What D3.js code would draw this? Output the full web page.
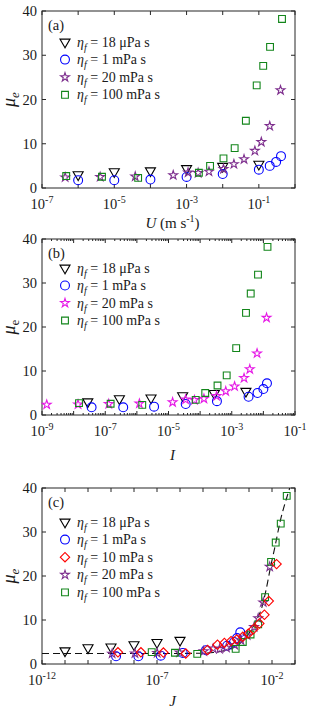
<!DOCTYPE html>
<html lang="en">
<head>
<meta charset="UTF-8">
<title>Effective friction vs U, I, J</title>
<style>
    body { margin: 0; background: #fff; }
    text { font-family: "Liberation Serif", "Times New Roman", serif; fill: #1a1a1a; }
    .box { fill: none; stroke: #262626; stroke-width: 1; }
    .tk { stroke: #262626; stroke-width: 1; }
    .mk { fill: none; stroke-width: 1.1; }
</style>
</head>
<body>
<svg width="311" height="714"></svg>
<script src="https://d3js.org/d3.v7.min.js"></script>
<script>
    // series labels (fluid viscosity)
    const seriesNames = ["18 \u03bcPa s", "1 mPa s", "10 mPa s", "20 mPa s", "100 mPa s"];

    // eta_f = 18 uPa s (triangles)
    const triMu = [3.0, 3.7, 3.9, 4.4, 4.9, 5.4];
    const triU = [1e-6, 1e-5, 1e-4, 1e-3, 1e-2, 1e-1];
    const triI = [2.8e-8, 2.8e-7, 2.8e-6, 2.8e-5, 2.8e-4, 2.8e-3];
    const triJ = [1e-11, 1e-10, 1e-9, 1e-8, 1e-7, 1e-6];

    // eta_f = 1 mPa s (circles)
    const cirMu = [1.75, 1.75, 1.9, 2.5, 3.15, 4.15, 5.0, 5.9, 7.2];
    const cirU = [1e-6, 1e-5, 1e-4, 1e-3, 1e-2, 0.1, 0.2, 0.3, 0.41];
    const cirI = [3.7e-8, 3.7e-7, 3.5e-6, 3.5e-5, 3.4e-4, 3.4e-3, 6.5e-3, 1.0e-2, 1.3e-2];
    const cirJ = [1.66e-9, 1.55e-8, 1.45e-7, 1.32e-6, 1.35e-5, 1.12e-4, 2.24e-4, 3.02e-4, 4.17e-4];

    // eta_f = 10 mPa s (diamonds, only in J panel)
    const diaMu = [2.65, 2.65, 2.6, 2.4, 3.2, 4.4, 4.8, 5.2, 5.6, 6.2, 6.9, 7.9, 9.2, 11.2, 14.3, 22.7];
    const diaJ = [2.0e-9, 2.0e-8, 1.9e-7, 1.78e-6, 1.58e-5, 4.27e-5, 8.51e-5, 1.66e-4, 2.95e-4, 5.37e-4,
        9.33e-4, 1.55e-3, 2.82e-3, 4.68e-3, 7.24e-3, 1.58e-2];

    // eta_f = 20 mPa s (stars)
    const starMu = [2.35, 2.4, 2.5, 2.6, 2.9, 3.5, 3.4, 3.7, 4.3, 5.4, 6.5, 8.4, 10.4, 14.0, 22.1];
    const starU = [4.47e-8, 4.37e-7, 4.07e-6, 3.8e-5, 4.27e-4, 1.1e-3, 2.09e-3, 4.17e-3, 1.05e-2, 2.04e-2,
        3.89e-2, 7.76e-2, 0.117, 0.2, 0.398];
    const starI = [1.41e-9, 1.38e-8, 1.29e-7, 1.2e-6, 1.35e-5, 3.47e-5, 6.61e-5, 1.32e-4, 3.31e-4, 6.46e-4,
        1.23e-3, 2.45e-3, 3.72e-3, 6.31e-3, 1.26e-2];
    const starJ = [1.12e-9, 1.1e-8, 1.02e-7, 9.55e-7, 1.07e-5, 2.75e-5, 5.25e-5, 1.05e-4, 2.4e-4, 4.47e-4,
        8.32e-4, 1.66e-3, 2.51e-3, 4.17e-3, 7.94e-3];

    // eta_f = 100 mPa s (squares)
    const sqMu = [2.7, 2.55, 2.3, 3.45, 5.0, 6.7, 9.0, 15.2, 23.2, 27.6, 31.9, 38.2];
    const sqU = [4.68e-7, 4.57e-6, 4.57e-5, 2.19e-3, 4.47e-3, 1.05e-2, 2.14e-2, 4.37e-2, 8.71e-2, 0.132, 0.204, 0.437];
    const sqI = [1.48e-8, 1.48e-7, 1.48e-6, 7.24e-5, 1.45e-4, 3.55e-4, 6.92e-4, 1.38e-3, 2.82e-3, 3.98e-3, 6.76e-3, 1.35e-2];
    const sqJ = [5.89e-8, 6.03e-7, 5.62e-6, 2.63e-4, 5.37e-4, 1.17e-3, 2.51e-3, 5.01e-3, 9.12e-3, 1.45e-2, 2.4e-2, 4.37e-2];

    // dashed master curve in the J panel
    const fitJ = [1e-12, 1e-6, 7.9e-6, 2.8e-5, 1.07e-4, 4.1e-4, 1.1e-3, 2.14e-3, 3.55e-3, 5.5e-3, 8.7e-3,
        1.35e-2, 2.24e-2, 5.0e-2, 6.3e-2];
    const fitMu = [2.4, 2.4, 2.45, 2.6, 3.2, 4.7, 7.3, 10, 12.7, 16.8, 22.1, 26.7, 32.3, 38.8, 40.5];

    const yTicks = [0, 10, 20, 30, 40];

    let svg = d3.select("svg");
    const left = 42, right = 295;

    const purple = "#7e2f8e", magenta = "#e619e6", green = "#12851a";

    function sym(type, size, rot) {
        return function (g, col, x, y) {
            g.append("path")
                .attr("class", "mk")
                .attr("d", d3.symbol().type(type).size(size)())
                .attr("stroke", col)
                .attr("transform", "translate(" + x + "," + y + ")" + (rot ? " rotate(" + rot + ")" : ""));
        };
    }
    const markers = {
        tri: sym(d3.symbolTriangle, 44, 180),
        cir: sym(d3.symbolCircle, 62, 0),
        dia: sym(d3.symbolSquare, 44, 45),
        star: sym(d3.symbolStar, 24, 0),
        sq: sym(d3.symbolSquare, 46, 0)
    };

    function panel(p) {
        let g = svg.append("g");
        let x = d3.scaleLog().domain(p.domain).range([left, right]);
        let y = d3.scaleLinear().domain([0, 40]).range([p.bottom, p.top]);

        // axis ticks inside the box, on all four sides
        let lo = Math.round(Math.log10(p.domain[0])), hi = Math.round(Math.log10(p.domain[1]));
        for (let e = lo; e <= hi; e++) {
            let xv = x(Math.pow(10, e));
            g.append("line").attr("class", "tk").attr("x1", xv).attr("x2", xv).attr("y1", p.bottom).attr("y2", p.bottom - 4);
            g.append("line").attr("class", "tk").attr("x1", xv).attr("x2", xv).attr("y1", p.top).attr("y2", p.top + 4);
            if (p.minor && e < hi) {
                for (let m = 2; m <= 9; m++) {
                    let xm = x(m * Math.pow(10, e));
                    g.append("line").attr("class", "tk").attr("x1", xm).attr("x2", xm).attr("y1", p.bottom).attr("y2", p.bottom - 2);
                    g.append("line").attr("class", "tk").attr("x1", xm).attr("x2", xm).attr("y1", p.top).attr("y2", p.top + 2);
                }
            }
            if (p.labels.indexOf(e) >= 0) {
                let t = g.append("text").attr("x", xv).attr("y", p.bottom + 21)
                    .attr("text-anchor", "middle").style("font-size", "14.5px");
                t.append("tspan").text("10");
                t.append("tspan").attr("dy", -6).style("font-size", "10px").text("-" + Math.abs(e));
            }
        }
        yTicks.forEach(function (v) {
            g.append("line").attr("class", "tk").attr("x1", left).attr("x2", left + 4).attr("y1", y(v)).attr("y2", y(v));
            g.append("line").attr("class", "tk").attr("x1", right).attr("x2", right - 4).attr("y1", y(v)).attr("y2", y(v));
            g.append("text").attr("x", left - 5).attr("y", y(v) + 5)
                .attr("text-anchor", "end").style("font-size", "14.5px").text(v);
        });
        g.append("rect").attr("class", "box")
            .attr("x", left).attr("y", p.top).attr("width", right - left).attr("height", p.bottom - p.top);

        // y label
        let yl = g.append("text")
            .attr("transform", "translate(15," + ((p.top + p.bottom) / 2) + ") rotate(-90)")
            .attr("text-anchor", "middle").style("font-size", "18px");
        yl.append("tspan").style("font-style", "italic").text("\u03bc");
        yl.append("tspan").attr("dy", 4).style("font-size", "13px")
            .style("font-style", p.eItalic ? "italic" : "normal").text("e");

        // x label
        let xl = g.append("text").attr("x", (left + right) / 2 + 4).attr("y", p.bottom + p.xlabDy)
            .attr("text-anchor", "middle").style("font-size", "15px");
        xl.append("tspan").style("font-style", "italic").text(p.xname);
        if (p.units) {
            xl.append("tspan").text(" (m s");
            xl.append("tspan").attr("dy", -6).style("font-size", "10px").text("-1");
            xl.append("tspan").attr("dy", 6).text(")");
        }

        // panel tag
        g.append("text").attr("x", 48).attr("y", p.top + 19).style("font-size", "14.5px").text(p.tag);

        // fit curve
        if (p.fit) {
            let clipId = "clip" + p.tag.replace(/\W/g, "");
            svg.append("clipPath").attr("id", clipId).append("rect")
                .attr("x", left).attr("y", p.top).attr("width", right - left).attr("height", p.bottom - p.top);
            g.append("path")
                .datum(fitJ.map(function (d, i) { return [d, fitMu[i]]; }))
                .attr("clip-path", "url(#" + clipId + ")")
                .attr("fill", "none").attr("stroke", "#111").attr("stroke-width", 1.1)
                .attr("stroke-dasharray", "7,4")
                .attr("d", d3.line().curve(d3.curveMonotoneX)
                    .x(function (d) { return x(d[0]); })
                    .y(function (d) { return y(d[1]); }));
        }

        // data markers
        p.series.forEach(function (s) {
            s.xs.forEach(function (xv, i) {
                if (xv < p.domain[0] || xv > p.domain[1]) return;
                markers[s.m](g, s.col, x(xv), y(s.mu[i]));
            });
        });

        // legend
        p.legend.forEach(function (s, i) {
            let ly = p.legTop + i * p.legStep;
            markers[s.m](g, s.col, 65, ly);
            let t = g.append("text").attr("x", 77).attr("y", ly + 4.5).style("font-size", "14px");
            t.append("tspan").style("font-style", "italic").text("\u03b7");
            t.append("tspan").attr("dy", 4).style("font-size", "10px").style("font-style", "italic").text("f");
            t.append("tspan").attr("dy", -4).text(" = " + s.name);
        });
    }

    const sTri = {m: "tri", col: "#000", name: seriesNames[0]};
    const sCir = {m: "cir", col: "#0000ff", name: seriesNames[1]};
    const sDia = {m: "dia", col: "#ff0000", name: seriesNames[2]};
    const sStar = {m: "star", col: purple, name: seriesNames[3]};
    const sStarB = {m: "star", col: magenta, name: seriesNames[3]};
    const sSq = {m: "sq", col: green, name: seriesNames[4]};

    panel({
        tag: "(a)", top: 11, bottom: 188, domain: [1e-7, 1], labels: [-7, -5, -3, -1], minor: false,
        xname: "U", units: true, xlabDy: 40, eItalic: true, legTop: 42, legStep: 17.6,
        legend: [sTri, sCir, sStar, sSq],
        series: [
            Object.assign({xs: triU, mu: triMu}, sTri),
            Object.assign({xs: cirU, mu: cirMu}, sCir),
            Object.assign({xs: starU, mu: starMu}, sStar),
            Object.assign({xs: sqU, mu: sqMu}, sSq)
        ]
    });

    panel({
        tag: "(b)", top: 239, bottom: 415, domain: [1e-9, 1e-1], labels: [-9, -7, -5, -3, -1], minor: true,
        xname: "I", units: false, xlabDy: 45, eItalic: false, legTop: 268, legStep: 17.5,
        legend: [sTri, sCir, sStarB, sSq],
        series: [
            Object.assign({xs: triI, mu: triMu}, sTri),
            Object.assign({xs: cirI, mu: cirMu}, sCir),
            Object.assign({xs: starI, mu: starMu}, sStarB),
            Object.assign({xs: sqI, mu: sqMu}, sSq)
        ]
    });

    panel({
        tag: "(c)", top: 488, bottom: 664, domain: [1e-12, 1e-1], labels: [-12, -7, -2], minor: false,
        xname: "J", units: false, xlabDy: 42, eItalic: true, legTop: 522, legStep: 17.6, fit: true,
        legend: [sTri, sCir, sDia, sStar, sSq],
        series: [
            Object.assign({xs: triJ, mu: triMu}, sTri),
            Object.assign({xs: cirJ, mu: cirMu}, sCir),
            Object.assign({xs: starJ, mu: starMu}, sStar),
            Object.assign({xs: sqJ, mu: sqMu}, sSq),
            Object.assign({xs: diaJ, mu: diaMu}, sDia)
        ]
    });
</script>
</body>
</html>
